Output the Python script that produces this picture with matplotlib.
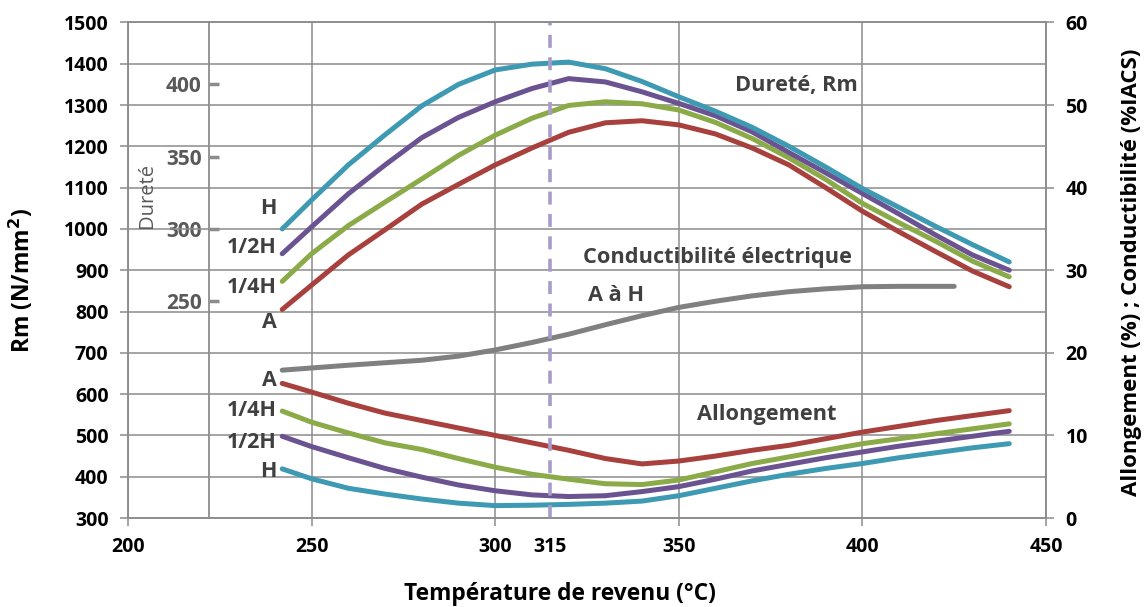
import matplotlib
matplotlib.use("Agg")
import matplotlib.pyplot as plt

plt.rcParams['font.family'] = ['Open Sans', 'DejaVu Sans']

# ---- data ----
temp = [242, 250, 260, 270, 280, 290, 300, 310, 320, 330, 340, 350, 360, 370, 380, 390, 400, 410, 420, 430, 440]

# Résistance Rm (N/mm2)
rm_H   = [1000, 1070, 1155, 1228, 1298, 1350, 1385, 1399, 1404, 1388, 1357, 1320, 1285, 1246, 1200, 1150, 1098, 1052, 1006, 962, 920]
rm_12H = [940, 1005, 1085, 1155, 1221, 1270, 1308, 1340, 1364, 1356, 1332, 1304, 1274, 1235, 1185, 1136, 1086, 1036, 985, 937, 900]
rm_14H = [873, 940, 1008, 1065, 1121, 1178, 1227, 1268, 1299, 1308, 1303, 1288, 1258, 1219, 1172, 1120, 1062, 1015, 970, 922, 884]
rm_A   = [805, 864, 937, 998, 1060, 1108, 1155, 1196, 1234, 1257, 1262, 1252, 1230, 1196, 1155, 1100, 1043, 993, 945, 898, 860]

# Allongement (%)
el_A   = [16.3, 15.25, 13.9, 12.7, 11.8, 10.9, 10.0, 9.1, 8.2, 7.2, 6.55, 6.9, 7.5, 8.2, 8.8, 9.6, 10.4, 11.1, 11.8, 12.4, 13.0]
el_14H = [12.95, 11.6, 10.3, 9.1, 8.3, 7.2, 6.15, 5.3, 4.7, 4.15, 4.05, 4.6, 5.6, 6.6, 7.4, 8.2, 9.0, 9.6, 10.2, 10.8, 11.4]
el_12H = [9.9, 8.65, 7.3, 6.0, 4.95, 4.0, 3.3, 2.8, 2.6, 2.7, 3.2, 3.8, 4.7, 5.7, 6.5, 7.3, 8.0, 8.7, 9.3, 9.9, 10.5]
el_H   = [5.95, 4.75, 3.6, 2.9, 2.3, 1.8, 1.5, 1.55, 1.65, 1.8, 2.05, 2.7, 3.6, 4.5, 5.3, 6.0, 6.6, 7.3, 7.9, 8.5, 9.0]

# Conductibilité (%IACS)
temp_cond = [242, 260, 280, 290, 300, 310, 320, 330, 340, 350, 360, 370, 380, 390, 400, 410, 425]
cond = [17.9, 18.5, 19.1, 19.6, 20.35, 21.25, 22.25, 23.4, 24.5, 25.5, 26.25, 26.9, 27.4, 27.75, 28.0, 28.05, 28.05]

# Dureté scale (HV) <-> Rm
hv_ticks = [250, 300, 350, 400]
hv_ref, rm_ref, rm_per_hv = 300, 1000, 3.5

x_ticks = [200, 250, 300, 350, 400, 450]
peak_temp = 315

c_H, c_12H, c_14H, c_A, c_cond = '#3E9AB2', '#6A5390', '#8BAA48', '#A8403D', '#808080'
grid_c = '#8C8C8C'
lab_c = '#404040'

fig = plt.figure(figsize=(11.45, 6.07), dpi=100)
ax = fig.add_axes([0.1118, 0.1466, 0.8017, 0.8164])
ax2 = ax.twinx()

ax.set_xlim(200, 450)
ax.set_ylim(300, 1500)
ax2.set_ylim(0, 60)

ax.set_xticks(x_ticks)
ax.set_yticks(range(300, 1501, 100))
ax2.set_yticks(range(0, 61, 10))
ax.set_xticks([peak_temp], minor=True)
ax.set_xticklabels([str(peak_temp)], minor=True)
ax.tick_params(axis='x', which='minor', length=0, pad=14, labelsize=14)
for lab in ax.get_xticklabels(minor=True):
    lab.set_fontweight('bold')

ax.grid(True, which='major', color=grid_c, lw=1.1)
ax.set_axisbelow(True)
for a in (ax, ax2):
    for s in a.spines.values():
        s.set_color(grid_c)
        s.set_linewidth(1.1)
ax.tick_params(axis='both', which='major', color=grid_c, width=1.1, length=6, labelsize=14, pad=8)
ax2.tick_params(axis='y', color=grid_c, width=1.1, length=6, labelsize=14, pad=8)
for lab in ax.get_xticklabels() + ax.get_yticklabels() + ax2.get_yticklabels():
    lab.set_fontweight('bold')

lw = 3.6
kw = dict(lw=lw, solid_capstyle='round', solid_joinstyle='round')
ax.plot(temp, rm_A, color=c_A, **kw)
ax.plot(temp, rm_14H, color=c_14H, **kw)
ax.plot(temp, rm_12H, color=c_12H, **kw)
ax.plot(temp, rm_H, color=c_H, **kw)

ax2.plot(temp_cond, cond, color=c_cond, **kw)
ax2.plot(temp, el_A, color=c_A, **kw)
ax2.plot(temp, el_14H, color=c_14H, **kw)
ax2.plot(temp, el_12H, color=c_12H, **kw)
ax2.plot(temp, el_H, color=c_H, **kw)

ax2.axvline(peak_temp, color='#A99BC9', lw=2.6, ls=(0, (3.6, 2.6)))

# Dureté axis inside the plot
loc = (222 - 200) / 250
sec = ax.secondary_yaxis(loc, functions=(lambda r: hv_ref + (r - rm_ref) / rm_per_hv,
                                          lambda h: rm_ref + (h - hv_ref) * rm_per_hv))
sec.set_yticks(hv_ticks)
sec.spines['left'].set_color(grid_c)
sec.spines['left'].set_linewidth(1.3)
sec.tick_params(axis='y', direction='in', color=grid_c, width=2.5, length=7, labelsize=15,
                labelcolor='#595959', pad=5)
for lab in sec.get_yticklabels():
    lab.set_fontweight('bold')

fig.text(22 / 1145, 1 - 280 / 607, 'Rm (N/mm$^\\mathbf{2}$)', rotation=90, ha='center', va='center',
         fontsize=16.5, fontweight='bold')
fig.text(559.5 / 1145, 1 - 594 / 607, 'Température de revenu (°C)', ha='center', va='center',
         fontsize=16.4, fontweight='bold')
fig.text(1132 / 1145, 1 - 272 / 607, 'Allongement (%) ; Conductibilité (%IACS)', rotation=90,
         ha='center', va='center', fontsize=16, fontweight='bold')

tk = dict(fontsize=15.5, fontweight='bold', color=lab_c)
# curve labels
for txt, y in [('H', 1050), ('1/2H', 955), ('1/4H', 857), ('A', 774)]:
    ax.text(240.6, y, txt, ha='right', va='center', **tk)
for txt, y in [('A', 633), ('1/4H', 560), ('1/2H', 483), ('H', 413)]:
    ax.text(240.6, y, txt, ha='right', va='center', **tk)

ax.text(205.3, 1082, 'Dureté', rotation=90, ha='center', va='center', fontsize=14.5, color='#595959')
ann = dict(fontsize=15.7, fontweight='bold', color=lab_c)
ax.text(365.4, 1348, 'Dureté, Rm', ha='left', va='center', **ann)
ax.text(324, 931, 'Conductibilité électrique', ha='left', va='center', **ann)
ax.text(325.2, 839, 'A à H', ha='left', va='center', **ann)
ax.text(355, 551, 'Allongement', ha='left', va='center', **ann)

fig.savefig('out.png', dpi=100)
